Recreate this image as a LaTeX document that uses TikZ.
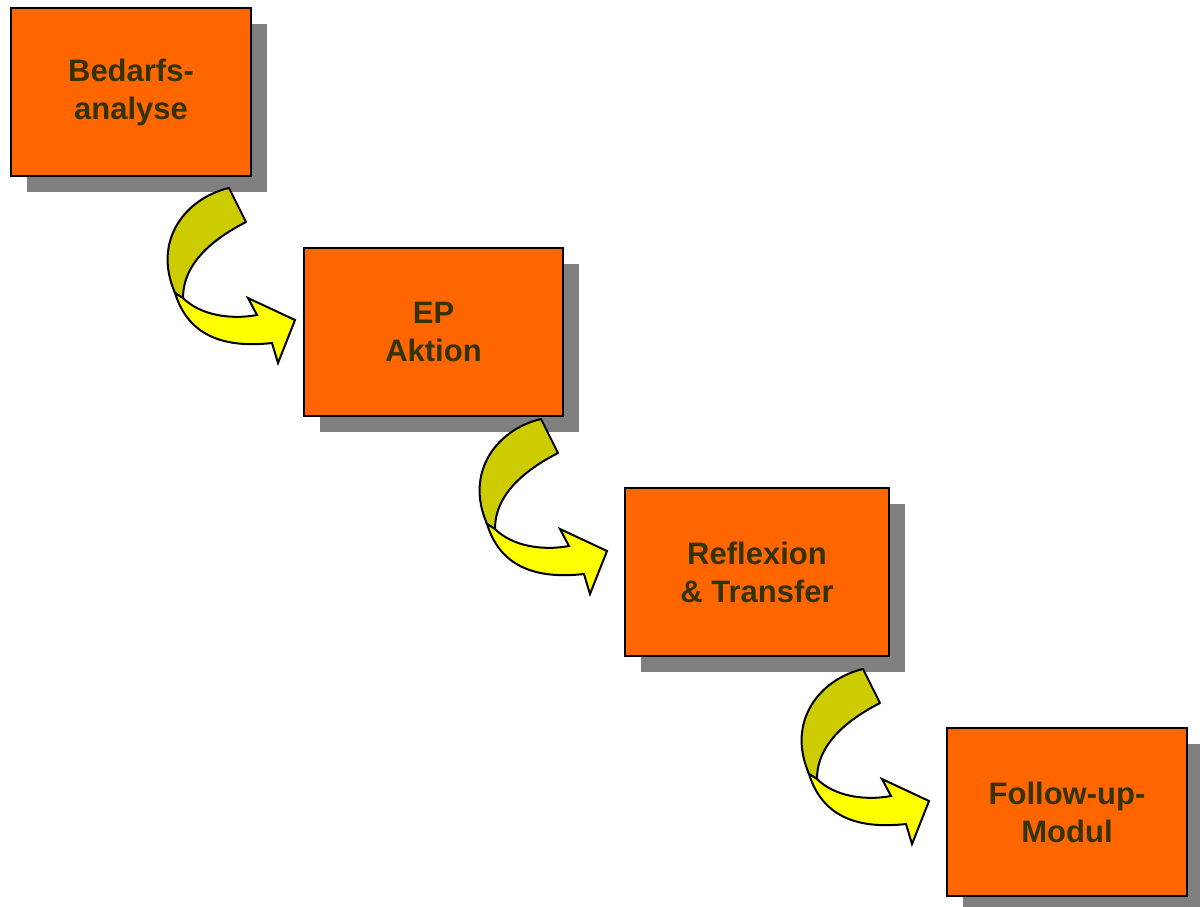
\documentclass[tikz,border=0pt]{standalone}
\usepackage{fontspec}
\setmainfont{Liberation Sans}
\usetikzlibrary{shadows}

\definecolor{boxorange}{HTML}{FF6600}
\definecolor{shadowgray}{HTML}{808080}
\definecolor{textolive}{HTML}{333300}
\definecolor{backyellow}{HTML}{CCCC00}
\definecolor{frontyellow}{HTML}{FFFF00}

\tikzset{
  stage/.style={draw=black, line width=1pt, fill=boxorange,
    minimum height=84pt, align=center, text=textolive,
    font=\bfseries\fontsize{15.5}{19}\selectfont,
    drop shadow={shadow xshift=8pt, shadow yshift=-8pt, fill=shadowgray, opacity=1}},
  bandback/.style={draw=black, line width=1pt, fill=backyellow, line join=round},
  bandfront/.style={draw=black, line width=1pt, fill=frontyellow, line join=miter}
}

\begin{document}
\begin{tikzpicture}[x=0.5pt,y=-0.5pt]
\useasboundingbox (0,0) rectangle (1200,906);
\clip (0,0) rectangle (1200,906);

% the four stages
\node[stage, minimum width=120pt]   (bedarf)   at (131,92)    {Bedarfs-\\analyse};
\node[stage, minimum width=129.5pt] (aktion)   at (433.5,332) {EP\\Aktion};
\node[stage, minimum width=132pt]   (reflex)   at (757,572)   {Reflexion\\\& Transfer};
\node[stage, minimum width=120pt]   (followup) at (1067,812)  {Follow-up-\\Modul};

% twisted arrows between the stages
\foreach \dx/\dy in {0/0, 312/231, 634/481}{
  \begin{scope}[shift={(\dx,\dy)}]
    % back side of the band
    \draw[bandback] (229,188) .. controls (186,198) and (152,240) .. (175,293)
      -- (183,298) .. controls (183,262) and (215,238) .. (246,222) -- cycle;
    % front side with the head
    \draw[bandfront] (175,293) .. controls (185,325) and (210,350) .. (272,343)
      -- (278,363) -- (295,320) -- (248,298) -- (257,315)
      .. controls (230,320) and (200,315) .. (183,298) -- cycle;
  \end{scope}
}

\end{tikzpicture}
\end{document}
